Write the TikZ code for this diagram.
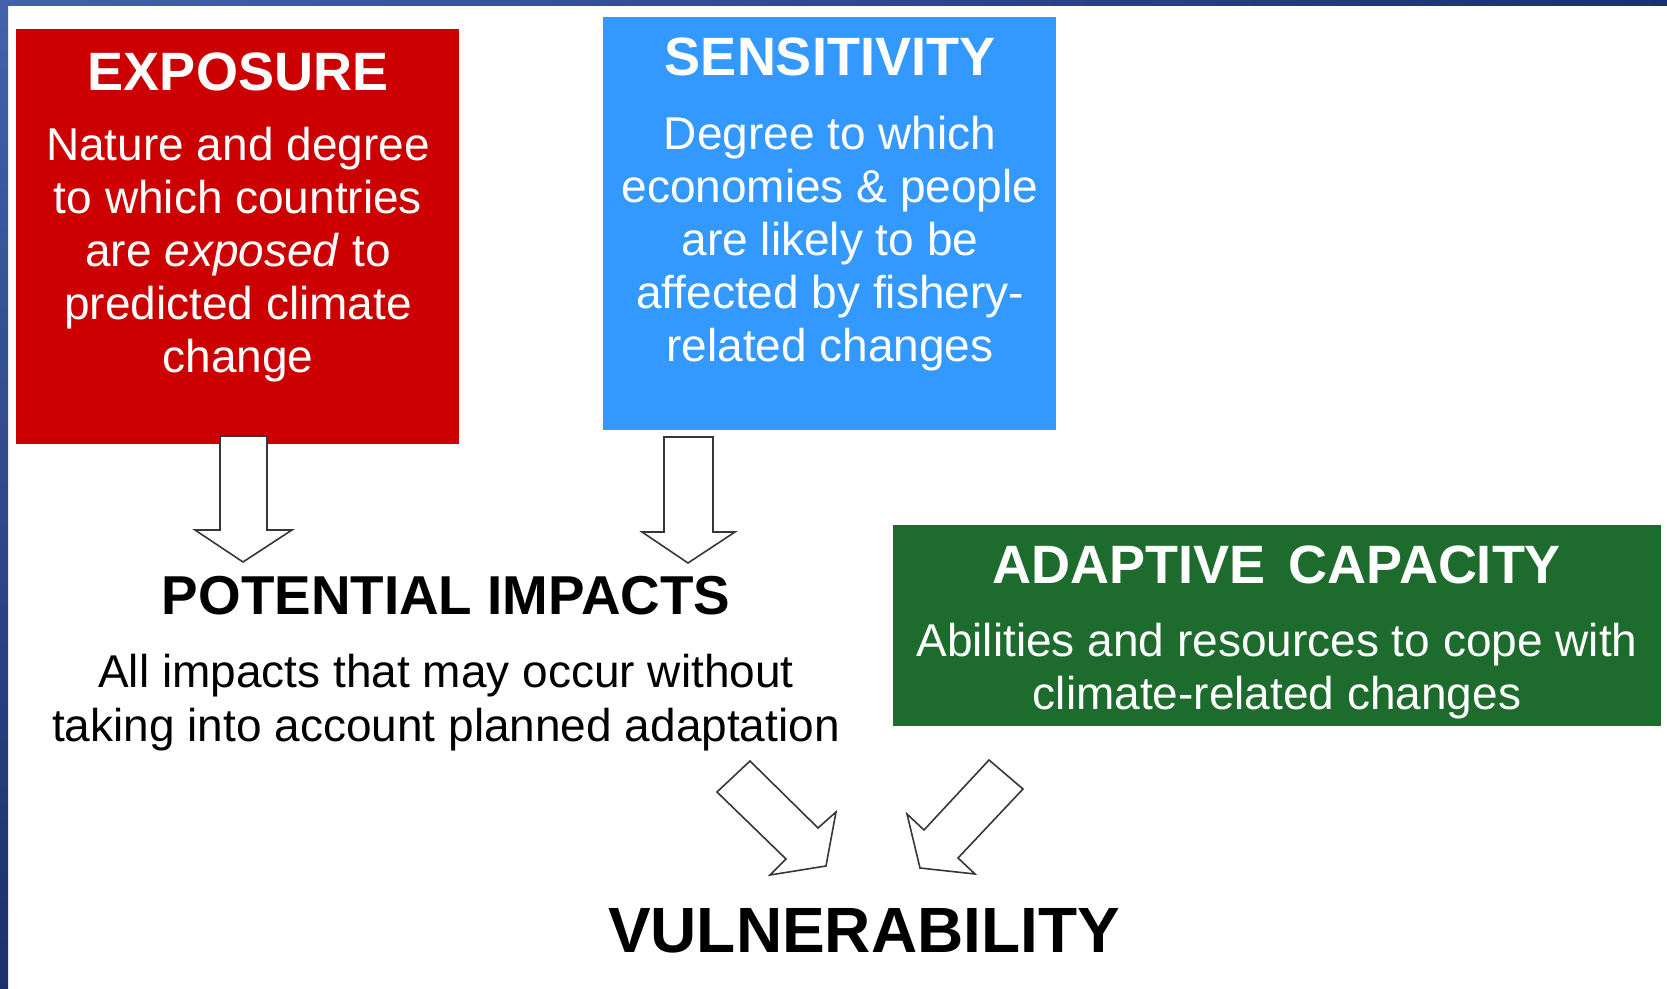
\documentclass[tikz,border=0pt]{standalone}
\usepackage{fontspec}
\setmainfont{Liberation Sans}
\definecolor{expred}{RGB}{204,0,0}
\definecolor{sensblue}{RGB}{51,153,255}
\definecolor{adgreen}{RGB}{30,107,46}
\definecolor{navyL}{RGB}{66,98,170}
\definecolor{navyD}{RGB}{28,48,108}
\definecolor{arrowgray}{RGB}{55,55,55}
\begin{document}
\begin{tikzpicture}[x=0.5pt,y=-0.5pt,
  box/.style={draw=none, inner sep=0pt, outer sep=0pt, anchor=north west},
  boxtitle/.style={text=white, font=\fontsize{27}{32}\selectfont\bfseries, anchor=base, inner sep=0pt},
  boxbody/.style={text=white, font=\fontsize{23}{26.5}\selectfont, align=center, anchor=base, inner sep=0pt},
  blockarrow/.style={draw=arrowgray, fill=white, line width=0.8pt, line join=miter}]
\useasboundingbox (0,0) rectangle (1667,989);
\fill[white] (0,0) rectangle (1667,989);
\shade[left color=navyL, right color=navyD] (0,0) rectangle (1667,6);
\shade[top color=navyL, bottom color=navyD] (0,0) rectangle (8,989);

% boxes
\node[box, fill=expred, minimum width=221.5pt, minimum height=207.5pt] (expbox) at (16,29) {};
\node[box, fill=sensblue, minimum width=226.5pt, minimum height=206.5pt] (sensbox) at (603,17) {};
\node[box, fill=adgreen, minimum width=384pt, minimum height=100.5pt] (adbox) at (893,525) {};

% texts (multi-line nodes: base = baseline of last line)
\node[boxtitle] (exptitle) at (238,91) {EXPOSURE};
\node[boxbody] (expbody) at (238,373) {Nature and degree\\to which countries\\are \textit{exposed} to\\predicted climate\\change};
\node[boxtitle] (senstitle) at (830,76) {SENSITIVITY};
\node[boxbody] (sensbody) at (830,362) {Degree to which\\economies \& people\\are likely to be\\affected by fishery-\\related changes};
\node[boxtitle] (adtitle) at (1277,584) {ADAPTIVE\hspace{4pt} CAPACITY};
\node[boxbody] (adbody) at (1277,710) {Abilities and resources to cope with\\climate-related changes};
\node[boxtitle, text=black, font=\fontsize{27.4}{32}\selectfont\bfseries] (pottitle) at (446,615) {POTENTIAL IMPACTS};
\node[boxbody, text=black, font=\fontsize{23}{27}\selectfont] (potbody) at (446,741) {All impacts that may occur without\\taking into account planned adaptation};
\node[boxtitle, text=black, font=\fontsize{32}{38}\selectfont\bfseries] (vul) at (864,952) {VULNERABILITY};

% block arrows
\draw[blockarrow] (220,436) -- (267,436) -- (267,530) -- (292,530) -- (243,562) -- (195,530) -- (220,530) -- cycle;
\draw[blockarrow] (664,437) -- (713,437) -- (713,532) -- (735,532) -- (688,563) -- (642,532) -- (664,532) -- cycle;
\draw[blockarrow] (750,761) -- (818,828) -- (836,812) -- (826,866) -- (770,875) -- (786,859) -- (717,792) -- cycle;
\draw[blockarrow] (989,760) -- (1023,789) -- (958,858) -- (975,874) -- (920,868) -- (907,814) -- (924,830) -- cycle;
\end{tikzpicture}
\end{document}
